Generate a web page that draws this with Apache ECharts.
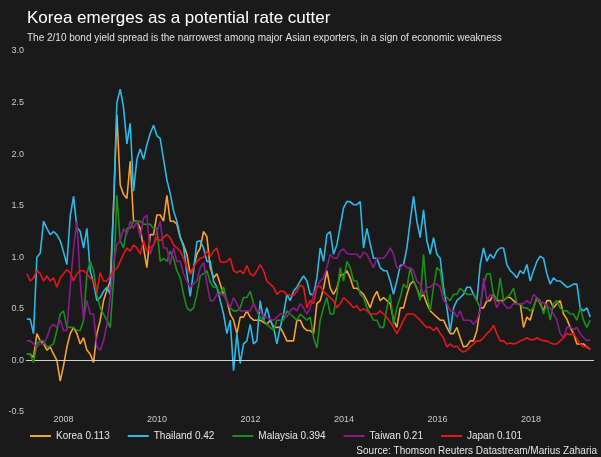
<!DOCTYPE html>
<html><head><meta charset="utf-8">
<script src="https://cdn.jsdelivr.net/npm/echarts@6/dist/echarts.min.js"></script>
<style>html,body{margin:0;padding:0;background:#1a1a1a;}#c{width:601px;height:457px;}</style>
</head><body><div id="c"></div>
<script>
// sampling grid: roughly every 26 days starting late March 2007
const startYear = 2007.219;
const stepYears = 0.0713;

const yearTicks = [2008, 2010, 2012, 2014, 2016, 2018];

const seriesNames = ['Korea 0.113', 'Thailand 0.42', 'Malaysia 0.394', 'Taiwan 0.21', 'Japan 0.101'];
const seriesColors = ['#f5a32a', '#2cb9e8', '#1b8f1b', '#8a1c8c', '#e8161b'];

const korea = [0.06,
  0.06, 0.03, 0.26, 0.19, 0.16, 0.10, 0.13, 0.06, 0.00,
  -0.20, -0.05, 0.13, 0.26, 0.32, 0.26, 0.16, 0.22, 0.10,
  0.06, -0.02, 0.26, 0.39, 0.58, 0.68, 0.77, 1.50, 2.38,
  1.70, 1.61, 1.57, 1.93, 1.35, 1.35, 1.28, 1.09, 0.90,
  1.22, 1.22, 1.41, 1.41, 1.35, 1.60, 1.35, 1.35, 1.32,
  1.19, 1.12, 1.03, 0.84, 0.90, 1.03, 1.09, 1.25, 1.20,
  0.90, 0.80, 0.84, 0.74, 0.64, 0.58, 0.45, 0.39, 0.26,
  0.42, 0.42, 0.48, 0.42, 0.39, 0.39, 0.39, 0.37, 0.35,
  0.39, 0.32, 0.32, 0.32, 0.26, 0.19, 0.19, 0.19, 0.39,
  0.39, 0.32, 0.29, 0.29, 0.26, 0.55, 0.58, 0.70, 0.87,
  0.70, 0.64, 0.70, 0.83, 0.83, 0.87, 0.80, 0.70, 0.70,
  0.67, 0.64, 0.58, 0.51, 0.61, 0.67, 0.58, 0.61, 0.58,
  0.55, 0.39, 0.32, 0.51, 0.51, 0.64, 0.74, 0.77, 0.70,
  0.61, 0.64, 0.55, 0.48, 0.45, 0.42, 0.39, 0.39, 0.32,
  0.26, 0.26, 0.32, 0.22, 0.13, 0.14, 0.19, 0.19, 0.29,
  0.51, 0.51, 0.58, 0.58, 0.64, 0.58, 0.58, 0.58, 0.61,
  0.61, 0.58, 0.55, 0.55, 0.32, 0.42, 0.39, 0.51, 0.61,
  0.55, 0.48, 0.58, 0.58, 0.51, 0.55, 0.58, 0.45, 0.40,
  0.32, 0.26, 0.16, 0.16, 0.16, 0.13,
  0.11];

const thailand = [0.40,
  0.40, 0.26, 1.00, 1.04, 1.35, 1.28, 1.22, 1.25, 1.22,
  1.16, 1.05, 0.93, 1.40, 1.59, 1.29, 1.25, 1.09, 1.28,
  0.87, 0.75, 0.58, 0.61, 0.67, 0.71, 0.64, 1.48, 2.50,
  2.63, 2.45, 2.10, 2.30, 1.64, 1.95, 2.05, 1.95, 2.09,
  2.20, 2.28, 2.18, 2.15, 1.95, 1.75, 1.62, 1.45, 1.35,
  1.20, 1.10, 0.85, 0.62, 0.87, 1.15, 1.16, 1.09, 0.96,
  0.96, 0.77, 0.71, 0.58, 0.45, 0.26, 0.39, -0.10, 0.26,
  -0.03, 0.16, 0.19, 0.35, 0.16, 0.19, 0.58, 0.39, 0.51,
  0.39, 0.32, 0.16, 0.32, 0.45, 0.64, 0.58, 0.67, 0.71,
  0.77, 0.82, 0.77, 0.64, 0.64, 0.80, 1.09, 0.96, 1.22,
  1.25, 1.03, 1.12, 1.30, 1.48, 1.54, 1.54, 1.51, 1.51,
  1.54, 1.09, 1.28, 1.13, 0.99, 0.99, 0.90, 0.87, 0.87,
  0.77, 0.64, 0.77, 0.92, 0.93, 1.09, 1.35, 1.59, 1.35,
  1.19, 1.46, 1.16, 1.03, 1.19, 1.03, 0.99, 0.71, 0.51,
  0.28, 0.51, 0.58, 0.61, 0.64, 0.71, 0.71, 0.64, 0.58,
  0.93, 1.09, 0.96, 1.03, 0.99, 1.06, 1.09, 1.09, 0.93,
  0.87, 0.84, 0.80, 0.87, 0.84, 0.93, 0.77, 0.87, 0.96,
  1.01, 0.99, 0.84, 0.74, 0.80, 0.77, 0.77, 0.74, 0.71,
  0.72, 0.74, 0.74, 0.51, 0.48, 0.51,
  0.42];

const malaysia = [0.06,
  0.06, -0.02, 0.16, 0.19, 0.19, 0.13, 0.14, 0.16, 0.29,
  0.45, 0.48, 0.32, 0.32, 0.32, 0.29, 0.29, 0.39, 0.84,
  0.96, 0.87, 0.64, 0.51, 0.45, 0.39, 0.32, 0.77, 1.60,
  1.16, 1.09, 1.28, 1.28, 1.35, 1.35, 1.35, 1.32, 1.32,
  1.32, 1.28, 1.28, 0.96, 0.99, 0.96, 1.06, 0.99, 0.87,
  0.80, 0.64, 0.51, 0.48, 0.51, 0.64, 0.82, 0.84, 0.87,
  0.76, 0.71, 0.71, 0.64, 0.71, 0.58, 0.51, 0.48, 0.48,
  0.51, 0.61, 0.61, 0.67, 0.55, 0.48, 0.42, 0.39, 0.35,
  0.32, 0.29, 0.39, 0.39, 0.39, 0.48, 0.45, 0.42, 0.39,
  0.45, 0.42, 0.39, 0.42, 0.22, 0.12, 0.39, 0.51, 0.61,
  0.45, 0.45, 0.64, 0.90, 0.77, 0.96, 0.90, 0.77, 0.77,
  0.64, 0.61, 0.51, 0.45, 0.39, 0.39, 0.32, 0.32, 0.51,
  0.64, 0.35, 0.51, 0.61, 0.74, 0.70, 0.90, 0.77, 0.70,
  0.58, 1.03, 0.64, 0.48, 0.71, 0.90, 0.87, 0.64, 0.61,
  0.58, 0.64, 0.64, 0.70, 0.67, 0.64, 0.64, 0.64, 0.58,
  0.51, 0.74, 0.84, 0.84, 0.64, 0.58, 0.80, 0.58, 0.61,
  0.64, 0.70, 0.55, 0.55, 0.51, 0.51, 0.48, 0.51, 0.61,
  0.58, 0.45, 0.55, 0.39, 0.55, 0.58, 0.51, 0.48, 0.48,
  0.45, 0.45, 0.39, 0.51, 0.39, 0.32,
  0.39];

const taiwan = [0.19,
  0.19, 0.16, 0.13, 0.16, 0.16, 0.22, 0.32, 0.35, 0.32,
  0.39, 0.29, 0.29, 0.71, 1.09, 1.35, 0.77, 0.39, 0.58,
  0.45, 0.45, 0.13, 0.10, 0.19, 0.35, 0.62, 0.95, 1.12,
  1.16, 1.28, 1.22, 1.35, 1.28, 1.35, 1.19, 1.38, 1.41,
  1.03, 1.12, 1.25, 1.35, 1.09, 1.09, 0.93, 1.09, 0.96,
  0.96, 0.84, 0.77, 0.71, 0.74, 0.77, 0.90, 0.95, 0.75,
  0.58, 0.58, 0.64, 0.64, 0.64, 0.58, 0.51, 0.61, 0.55,
  0.48, 0.48, 0.48, 0.48, 0.55, 0.48, 0.48, 0.42, 0.42,
  0.40, 0.39, 0.42, 0.45, 0.45, 0.42, 0.48, 0.51, 0.48,
  0.55, 0.51, 0.45, 0.51, 0.64, 0.71, 0.77, 0.80, 0.90,
  1.03, 0.99, 0.99, 1.06, 1.08, 1.04, 1.03, 1.03, 1.03,
  0.99, 1.05, 1.03, 0.96, 0.90, 0.99, 0.99, 0.99, 1.03,
  1.09, 1.03, 0.90, 0.90, 0.93, 0.90, 0.90, 0.87, 0.77,
  0.74, 0.64, 0.71, 0.71, 0.74, 0.74, 0.71, 0.58, 0.55,
  0.48, 0.48, 0.42, 0.48, 0.39, 0.39, 0.39, 0.35, 0.39,
  0.48, 0.80, 0.58, 0.64, 0.61, 0.51, 0.58, 0.55, 0.51,
  0.51, 0.55, 0.55, 0.55, 0.55, 0.58, 0.55, 0.64, 0.61,
  0.56, 0.56, 0.53, 0.51, 0.45, 0.39, 0.26, 0.22, 0.32,
  0.32, 0.30, 0.32, 0.26, 0.22, 0.19,
  0.20];

const japan = [0.84,
  0.77, 0.80, 0.87, 0.84, 0.77, 0.82, 0.77, 0.80, 0.71,
  0.80, 0.84, 0.88, 0.85, 0.77, 0.84, 0.87, 0.87, 0.84,
  0.80, 0.77, 0.66, 0.85, 0.77, 0.77, 0.82, 0.87, 0.89,
  0.96, 1.03, 1.09, 1.06, 1.12, 1.09, 1.03, 1.16, 1.06,
  1.09, 1.12, 1.19, 1.16, 1.19, 1.22, 1.19, 1.12, 1.09,
  1.06, 0.99, 0.90, 0.84, 0.90, 0.96, 0.99, 1.00, 1.06,
  1.01, 1.06, 1.09, 0.96, 0.95, 0.96, 0.99, 0.87, 0.85,
  0.87, 0.84, 0.92, 0.84, 0.82, 0.87, 0.93, 0.87, 0.77,
  0.74, 0.71, 0.64, 0.67, 0.67, 0.64, 0.63, 0.63, 0.67,
  0.73, 0.71, 0.51, 0.58, 0.55, 0.71, 0.72, 0.67, 0.64,
  0.61, 0.58, 0.51, 0.55, 0.61, 0.58, 0.55, 0.51, 0.53,
  0.48, 0.50, 0.48, 0.45, 0.45, 0.45, 0.48, 0.45, 0.42,
  0.37, 0.32, 0.26, 0.32, 0.39, 0.45, 0.45, 0.45, 0.42,
  0.39, 0.35, 0.32, 0.32, 0.29, 0.32, 0.26, 0.22, 0.13,
  0.16, 0.13, 0.14, 0.10, 0.08, 0.10, 0.13, 0.16, 0.19,
  0.19, 0.22, 0.26, 0.29, 0.34, 0.26, 0.19, 0.19, 0.16,
  0.17, 0.16, 0.17, 0.19, 0.20, 0.22, 0.20, 0.20, 0.22,
  0.20, 0.19, 0.19, 0.17, 0.16, 0.16, 0.19, 0.22, 0.26,
  0.25, 0.26, 0.21, 0.16, 0.13, 0.14,
  0.10];

const allValues = [korea, thailand, malaysia, taiwan, japan];

function pairs(vals) {
  return vals.map((v, i) => [startYear + i * stepYears, v]);
}

const FONT = 'Liberation Sans, Arial, sans-serif';
const chart = echarts.init(document.getElementById('c'), null, {renderer: 'canvas'});

const series = allValues.map((vals, k) => {
  const s = {
    name: seriesNames[k],
    type: 'line',
    data: pairs(vals),
    showSymbol: false,
    symbol: 'none',
    smooth: false,
    lineStyle: {width: 1.6, color: seriesColors[k]},
    itemStyle: {color: seriesColors[k]},
    z: 3 + k
  };
  if (k === 0) {
    s.markLine = {
      silent: true,
      symbol: ['none', 'none'],
      label: {show: false},
      lineStyle: {color: '#cfcfcf', width: 1, type: 'solid'},
      data: [{yAxis: 0}]
    };
  }
  return s;
});

chart.setOption({
  animation: false,
  backgroundColor: '#1a1a1a',
  textStyle: {fontFamily: FONT},
  title: [
    {text: 'Korea emerges as a potential rate cutter', left: 27, top: 10, padding: 0,
     textStyle: {color: '#ffffff', fontSize: 17, fontWeight: 'normal', fontFamily: FONT}},
    {text: 'The 2/10 bond yield spread is the narrowest among major Asian exporters, in a sign of economic weakness',
     left: 27, top: 33, padding: 0,
     textStyle: {color: '#e0e0e0', fontSize: 10, fontWeight: 'normal', fontFamily: FONT}}
  ],
  grid: {left: 26, right: 7, top: 51, bottom: 45, containLabel: false},
  xAxis: {
    type: 'value', min: 2007.2, max: 2019.35,
    axisLine: {show: false}, axisTick: {show: false}, splitLine: {show: false},
    axisLabel: {customValues: yearTicks, formatter: v => String(v), color: '#c8c8c8',
                fontSize: 9, margin: 3, fontFamily: FONT}
  },
  yAxis: {
    type: 'value', min: -0.5, max: 3.0, interval: 0.5,
    axisLine: {show: false}, axisTick: {show: false}, splitLine: {show: false},
    axisLabel: {formatter: v => v.toFixed(1), color: '#c8c8c8', fontSize: 9, margin: 2, fontFamily: FONT}
  },
  legend: {
    data: seriesNames, left: 30, top: 431, padding: 0,
    icon: 'rect', itemWidth: 21, itemHeight: 2, itemGap: 18,
    textStyle: {color: '#e6e6e6', fontSize: 10, fontFamily: FONT}
  },
  graphic: [
    {type: 'text', right: 4, top: 446,
     style: {text: 'Source: Thomson Reuters Datastream/Marius Zaharia', fill: '#e6e6e6',
             font: '10px ' + FONT}}
  ],
  series: series
});
</script></body></html>
